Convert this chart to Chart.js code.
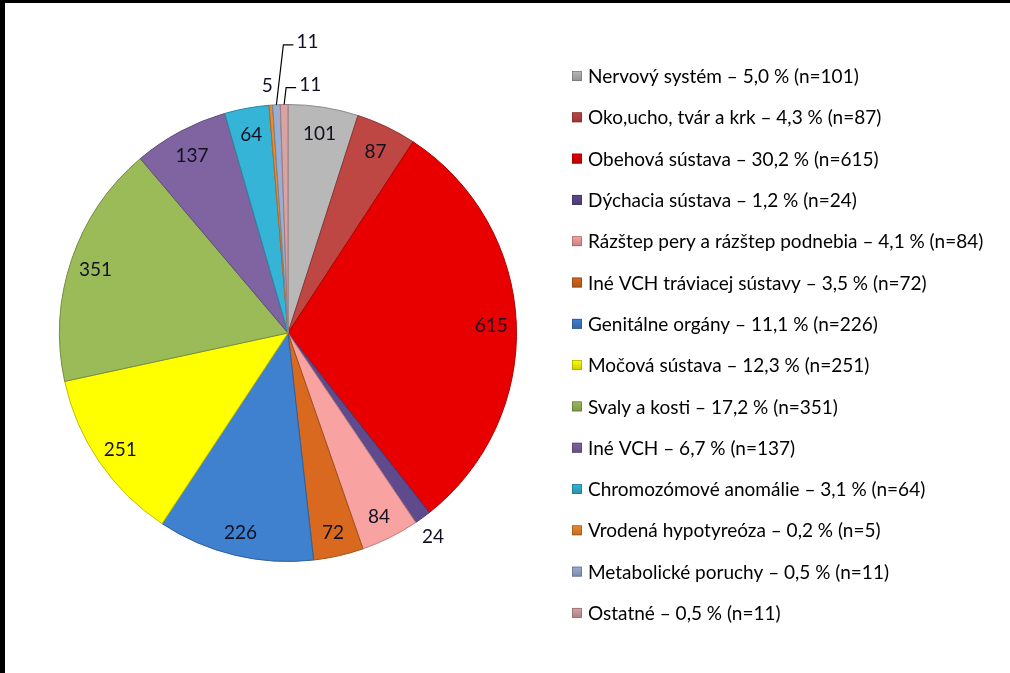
<!DOCTYPE html>
<html>
<head>
<meta charset="utf-8">
<script src="https://cdn.jsdelivr.net/npm/chart.js@4"></script>
<style>
html,body{margin:0;padding:0;background:#fff;}
#wrap{position:relative;width:1010px;height:673px;box-sizing:border-box;border-top:3px solid #000;border-left:5px solid #000;overflow:hidden;}
canvas{display:block;}
</style>
</head>
<body>
<div id="wrap"><canvas id="c" width="1005" height="670"></canvas></div>
<script>
const categories = [
  "Nervový systém – 5,0 % (n=101)",
  "Oko,ucho, tvár a krk – 4,3 % (n=87)",
  "Obehová sústava – 30,2 % (n=615)",
  "Dýchacia sústava – 1,2 % (n=24)",
  "Rázštep pery a rázštep podnebia – 4,1 % (n=84)",
  "Iné VCH tráviacej sústavy – 3,5 % (n=72)",
  "Genitálne orgány – 11,1 % (n=226)",
  "Močová sústava – 12,3 % (n=251)",
  "Svaly a kosti – 17,2 % (n=351)",
  "Iné VCH – 6,7 % (n=137)",
  "Chromozómové anomálie – 3,1 % (n=64)",
  "Vrodená hypotyreóza – 0,2 % (n=5)",
  "Metabolické poruchy – 0,5 % (n=11)",
  "Ostatné – 0,5 % (n=11)"
];
const values = [101, 87, 615, 24, 84, 72, 226, 251, 351, 137, 64, 5, 11, 11];
const colors = ["#B8B8B8","#BE4643","#E80000","#5E4A8C","#F8A2A2","#D8691E","#3F80CF","#FFFF00","#9BBB59","#8064A2","#35B4D8","#EE8A2C","#98AED2","#D8A3A3"];
// label placement style per slice: 0 = inside, 1 = outside, 2 = outside with leader
const labelMode = [0,0,0,1,0,0,0,0,0,0,0,1,2,2];

function darker(hex, f){
  const n = parseInt(hex.slice(1),16);
  const r = Math.round(((n>>16)&255)*f), g = Math.round(((n>>8)&255)*f), b = Math.round((n&255)*f);
  return `rgb(${r},${g},${b})`;
}

const FONT = "Lato, 'Open Sans', sans-serif";

const labelPlugin = {
  id: 'sliceLabels',
  afterDatasetsDraw(chart){
    const ctx = chart.ctx;
    const meta = chart.getDatasetMeta(0);
    ctx.save();
    ctx.font = "19px " + FONT;
    ctx.fillStyle = "#111122";
    ctx.textBaseline = "middle";
    let leaderIdx = 0;
    meta.data.forEach((arc, i) => {
      const p = arc.getProps(['x','y','startAngle','endAngle','outerRadius'], true);
      const mid = (p.startAngle + p.endAngle) / 2;
      const R = p.outerRadius;
      const txt = String(values[i]);
      if (labelMode[i] === 0) {
        const r = R * 0.89;
        ctx.textAlign = "center";
        ctx.fillText(txt, p.x + Math.cos(mid) * r, p.y + Math.sin(mid) * r + 2);
      } else if (labelMode[i] === 1) {
        const r = R + 21;
        ctx.textAlign = "center";
        ctx.fillText(txt, p.x + Math.cos(mid) * r - 2, p.y + Math.sin(mid) * r + 2);
      } else {
        const ex = p.x + Math.cos(mid) * R, ey = p.y + Math.sin(mid) * R;
        const rise = leaderIdx === 0 ? 60 : 17;
        const kx = ex + (leaderIdx === 0 ? 7 : 2);
        const ky = ey - rise;
        ctx.strokeStyle = "#000";
        ctx.lineWidth = 1.2;
        ctx.beginPath();
        ctx.moveTo(ex, ey);
        ctx.lineTo(kx, ky);
        ctx.lineTo(kx + 10, ky);
        ctx.stroke();
        ctx.textAlign = "left";
        ctx.fillText(txt, kx + 13, ky - 3);
        leaderIdx++;
      }
    });
    ctx.restore();
  }
};

const legendPlugin = {
  id: 'sideLegend',
  afterDraw(chart){
    const ctx = chart.ctx;
    const x0 = 567, y0 = 73, step = 41.3;
    ctx.save();
    ctx.font = "19px " + FONT;
    ctx.textBaseline = "middle";
    ctx.textAlign = "left";
    categories.forEach((lab, i) => {
      const y = y0 + i * step;
      const g = ctx.createLinearGradient(0, y - 5, 0, y + 5);
      g.addColorStop(0, darker(colors[i], 1.0));
      g.addColorStop(1, darker(colors[i], 0.8));
      ctx.fillStyle = g;
      ctx.fillRect(x0, y - 5, 10, 10);
      ctx.strokeStyle = darker(colors[i], 0.6);
      ctx.lineWidth = 0.6;
      ctx.strokeRect(x0 + 0.5, y - 4.5, 9, 9);
      ctx.fillStyle = "#000";
      ctx.fillText(lab, x0 + 16, y + 1);
    });
    ctx.restore();
  }
};

new Chart(document.getElementById('c'), {
  type: 'pie',
  data: {
    labels: categories,
    datasets: [{
      data: values,
      backgroundColor: colors,
      borderColor: colors.map(c => darker(c, 0.75)),
      borderWidth: 1
    }]
  },
  options: {
    responsive: false,
    animation: false,
    events: [],
    layout: { padding: { left: 54, top: 101, right: 493, bottom: 111 } },
    plugins: { legend: { display: false }, tooltip: { enabled: false } }
  },
  plugins: [labelPlugin, legendPlugin]
});
</script>
</body>
</html>
